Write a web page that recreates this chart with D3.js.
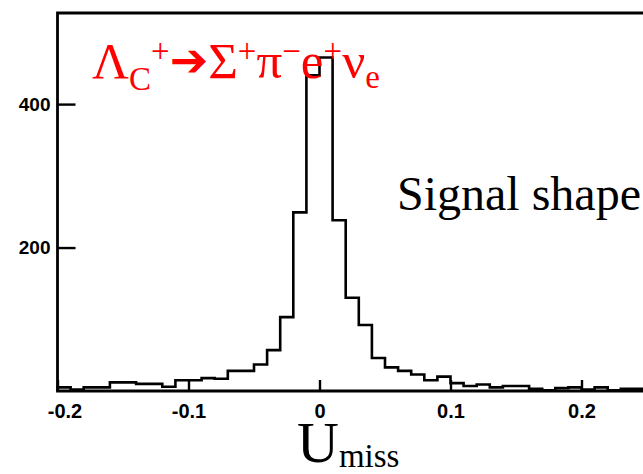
<!DOCTYPE html>
<html>
<head>
<meta charset="utf-8">
<script src="https://cdn.jsdelivr.net/npm/d3@7"></script>
<style>
  html, body { margin: 0; padding: 0; background: #fff; }
  svg { display: block; }
</style>
</head>
<body>
<svg id="chart" width="643" height="474"></svg>
<script>
// Lower edges of the U_miss bins (bin width 0.01)
const binLow = [
  -0.20, -0.19, -0.18, -0.17, -0.16, -0.15, -0.14, -0.13, -0.12, -0.11,
  -0.10, -0.09, -0.08, -0.07, -0.06, -0.05, -0.04, -0.03, -0.02, -0.01,
   0.00,  0.01,  0.02,  0.03,  0.04,  0.05,  0.06,  0.07,  0.08,  0.09,
   0.10,  0.11,  0.12,  0.13,  0.14,  0.15,  0.16,  0.17,  0.18,  0.19,
   0.20,  0.21,  0.22,  0.23,  0.24
];
const binWidth = 0.01;

// Entries per bin for the signal MC
const counts = [
    5,   2,   5,   5,  12,  12,  10,  10,   6,  15,
   15,  18,  17,  28,  28,  37,  57, 103, 249, 440,
  465, 238, 130,  92,  46,  33,  28,  23,  15,  20,
   11,   7,   9,   5,   7,   7,   3,   1,   4,   5,
    2,   5,   1,   3,   3
];

const xTicks = [-0.2, -0.1, 0, 0.1, 0.2];
const xTickLabels = ["-0.2", "-0.1", "0", "0.1", "0.2"];
const yTicks = [200, 400];
const yTickLabels = ["200", "400"];

const xDomain = [-0.2, 0.25];
const yDomain = [0, 527];

const svg = d3.select("#chart");

const x = d3.scaleLinear().domain(xDomain).range([57.5, 647]);
const y = d3.scaleLinear().domain(yDomain).range([391, 13]);

const serif = "'Liberation Serif', 'Times New Roman', serif";
const sans = "'Liberation Sans', Arial, sans-serif";

// Histogram outline as a step path
const pts = [];
pts.push([x(binLow[0]), y(0)]);
binLow.forEach((b, i) => {
  pts.push([x(b), y(counts[i])]);
  pts.push([x(b + binWidth), y(counts[i])]);
});
svg.append("path")
  .attr("d", d3.line()(pts))
  .attr("fill", "none")
  .attr("stroke", "#000")
  .attr("stroke-width", 2.6)
  .attr("stroke-linejoin", "miter");

// Frame: left axis, top and bottom edges
const frame = svg.append("g").attr("stroke", "#000").attr("stroke-width", 2.8).attr("fill", "none");
frame.append("path")
  .attr("d", `M${x(xDomain[1])},${y(yDomain[1])} H${x(xDomain[0])} V${y(0)} H${x(xDomain[1])}`);

// X axis ticks (pointing up into the plot)
const xAxis = d3.axisBottom(x)
  .tickValues(xTicks)
  .tickFormat((d, i) => xTickLabels[i])
  .tickSizeInner(-11)
  .tickSizeOuter(0)
  .tickPadding(13);
const gx = svg.append("g").attr("transform", `translate(0,${y(0)})`).call(xAxis);
gx.select(".domain").remove();
gx.selectAll(".tick line").attr("stroke", "#000").attr("stroke-width", 2.4);
gx.selectAll(".tick text")
  .attr("fill", "#000")
  .attr("font-family", sans)
  .attr("font-weight", "bold")
  .attr("font-size", 20)
  .attr("dx", (d) => d === -0.2 ? 7 : 0);

// Y axis ticks (pointing right into the plot)
const yAxis = d3.axisLeft(y)
  .tickValues(yTicks)
  .tickFormat((d, i) => yTickLabels[i])
  .tickSizeInner(-18)
  .tickSizeOuter(0)
  .tickPadding(7);
const gy = svg.append("g").attr("transform", `translate(${x(xDomain[0])},0)`).call(yAxis);
gy.select(".domain").remove();
gy.selectAll(".tick line").attr("stroke", "#000").attr("stroke-width", 2.4);
gy.selectAll(".tick text")
  .attr("fill", "#000")
  .attr("font-family", sans)
  .attr("font-weight", "bold")
  .attr("font-size", 19);

// Decay channel label
const title = svg.append("text")
  .attr("x", 92).attr("y", 78)
  .attr("fill", "#ff0000")
  .attr("font-family", serif)
  .attr("font-size", 51);
title.append("tspan").text("Λ");
title.append("tspan").attr("font-size", 33).attr("dy", 12).text("C");
title.append("tspan").attr("font-size", 33).attr("dy", -28).text("+");
title.append("tspan").attr("font-family", "'DejaVu Sans', sans-serif").attr("font-weight", "bold")
  .attr("font-size", 46).attr("dy", 14).text("➔");
title.append("tspan").attr("dy", 2).text("Σ");
title.append("tspan").attr("font-size", 33).attr("dy", -16).text("+");
title.append("tspan").attr("dy", 16).text("π");
title.append("tspan").attr("font-size", 33).attr("dy", -16).text("−");
title.append("tspan").attr("dy", 16).text("e");
title.append("tspan").attr("font-size", 33).attr("dy", -16).text("+");
title.append("tspan").attr("dy", 16).text("ν");
title.append("tspan").attr("font-size", 33).attr("dy", 10).text("e");

// Annotation
svg.append("text")
  .attr("x", 397).attr("y", 210)
  .attr("fill", "#000")
  .attr("font-family", serif)
  .attr("font-size", 48)
  .text("Signal shape");

// X axis title
const xt = svg.append("text")
  .attr("x", 297).attr("y", 462)
  .attr("fill", "#000")
  .attr("font-family", serif)
  .attr("font-size", 58);
xt.append("tspan").text("U");
xt.append("tspan").attr("font-size", 33).attr("dy", 5).text("miss");
</script>
</body>
</html>
